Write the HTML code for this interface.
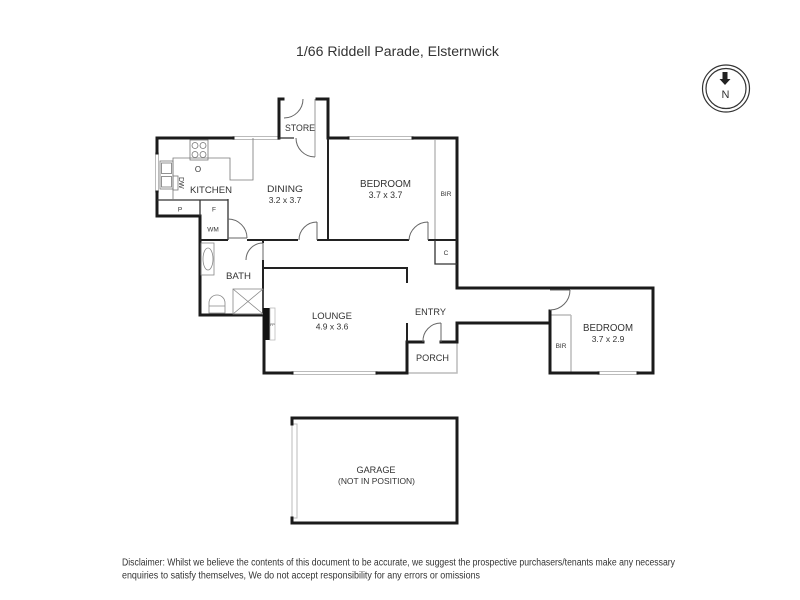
<!DOCTYPE html>
<html><head><meta charset="utf-8"><style>
html,body{margin:0;padding:0;background:#fff;}
svg{display:block;}
text{font-family:"Liberation Sans",sans-serif;fill:#333;}
</style></head><body>
<svg width="800" height="600" viewBox="0 0 800 600" xmlns="http://www.w3.org/2000/svg">
<rect width="800" height="600" fill="#fff"/>
<!-- Title -->
<text x="296" y="56" font-size="13.5" textLength="203" lengthAdjust="spacingAndGlyphs">1/66 Riddell Parade, Elsternwick</text>
<!-- Compass -->
<circle cx="726" cy="88.5" r="23.5" fill="none" stroke="#333" stroke-width="1.2"/>
<circle cx="726" cy="88.5" r="20" fill="none" stroke="#333" stroke-width="1.2"/>
<path d="M722.5,72 L727.5,72 L727.5,79 L730.5,79 L725,85 L719.5,79 L722.5,79 Z" fill="#222"/>
<text x="725.5" y="98" font-size="11" text-anchor="middle" fill="#222">N</text>

<!-- Windows (light) -->
<g fill="#fff" stroke="#bbb" stroke-width="1">
<rect x="233" y="136.5" width="46" height="3"/>
<rect x="155.5" y="153" width="3" height="39"/>
<rect x="348" y="136.5" width="65" height="3"/>
<rect x="292" y="371.5" width="85" height="3"/>
<rect x="598" y="371.5" width="40" height="3"/>
<rect x="292" y="424" width="5" height="94"/>
</g>
<!-- porch light lines -->
<g stroke="#bbb" stroke-width="1.5" fill="none">
<path d="M457,342 L457,373 L407,373"/>
<path d="M435,140 L435,240"/>
<path d="M571,315 L571,373 M550,315 L571,315"/>
</g>

<!-- Thick outer walls -->
<g stroke="#1b1b1b" stroke-width="3" fill="none" stroke-linecap="square" stroke-linejoin="miter">
<path d="M233,138 L157,138 L157,153"/>
<path d="M157,192 L157,216 L200,216 L200,315 L264,315 L264,373 L292,373"/>
<path d="M377,373 L407,373 L407,342 L423,342"/>
<path d="M441,342 L457,342 L457,323 L550,323"/>
<path d="M550,311 L550,373 L598,373"/>
<path d="M638,373 L653,373 L653,288 L457,288 L457,138 L413,138"/>
<path d="M348,138 L328,138 L328,99 L317,99"/>
<path d="M283,99 L279,99 L279,138"/>
<path d="M292,424 L292,418 L457,418 L457,523 L292,523 L292,518"/>
</g>

<!-- Interior walls -->
<g stroke="#222" stroke-width="2" fill="none">
<path d="M328,138 L328,240"/>
<path d="M200,240 L228,240 M247,240 L298,240 M317,240 L409,240 M428,240 L457,240"/>
<path d="M263,268 L407,268 L407,283"/>
<path d="M407,323 L407,342"/>
<path d="M263,240 L263,243 M263,260 L263,315"/>
</g>
<g stroke="#333" stroke-width="1.3" fill="none">
<path d="M435,240 L435,264 L457,264"/>
<path d="M157,200 L228,200 M200,200 L200,216 M228,199 L228,240"/>
<path d="M279,138 L294,138"/>
</g>
<path d="M315,99 L315,157" stroke="#999" stroke-width="1" fill="none"/>

<!-- Doors -->
<g stroke="#666" stroke-width="1" fill="none">
<path d="M284,118 A19,19 0 0 0 303,99"/>
<path d="M296,138 A19,19 0 0 0 315,157"/>
<path d="M317,222 L317,240 M317,222 A18,18 0 0 0 299,240"/>
<path d="M228,238 L247,238 M228,219 A19,19 0 0 1 247,238"/>
<path d="M428,222 L428,240 M428,222 A19,19 0 0 0 409,240"/>
<path d="M263,243 L263,260 M263,243 A17,17 0 0 0 246,260"/>
<path d="M441,323 L441,342 M441,323 A18,18 0 0 0 423,342"/>
<path d="M550,290 L570,290 M570,290 A20,20 0 0 1 550,310"/>
</g>

<!-- Kitchen fixtures -->
<g stroke="#777" stroke-width="0.8" fill="none">
<path d="M173,200 L173,158 L230,158 L230,180 L253,180 L253,138"/>
<rect x="190" y="140" width="18" height="20"/>
<circle cx="195" cy="145.5" r="3"/>
<circle cx="203" cy="145.5" r="3"/>
<circle cx="195" cy="154.5" r="3"/>
<circle cx="203" cy="154.5" r="3"/>
<rect x="160" y="161" width="13" height="28"/>
<rect x="161.5" y="163" width="10" height="10.5"/>
<rect x="161.5" y="176.5" width="10" height="10.5"/>
<rect x="173" y="176" width="5" height="14"/>
</g>
<!-- Bath fixtures -->
<g stroke="#888" stroke-width="0.8" fill="none">
<rect x="201" y="243" width="13" height="32"/>
<ellipse cx="208" cy="259" rx="5" ry="11"/>
<path d="M209,313 L209,303 A8,8 0 0 1 225,303 L225,313 Z M209,306 L225,306"/>
<rect x="233" y="289" width="30" height="25"/>
<path d="M233,289 L263,314 M263,289 L233,314"/>
</g>
<!-- Fireplace -->
<rect x="263" y="308" width="7" height="32" fill="#111"/>
<rect x="270" y="308" width="5" height="32" fill="#fff" stroke="#bbb" stroke-width="0.8"/>
<text x="272.5" y="326" font-size="3.5" text-anchor="middle">FP</text>

<!-- Labels -->
<g text-anchor="middle">
<text x="300" y="131" font-size="9.5" textLength="30" lengthAdjust="spacingAndGlyphs">STORE</text>
<text x="211" y="193" font-size="9.5" textLength="42" lengthAdjust="spacingAndGlyphs">KITCHEN</text>
<text x="285" y="192" font-size="9.5" textLength="36" lengthAdjust="spacingAndGlyphs">DINING</text>
<text x="285" y="203" font-size="8.5">3.2 x 3.7</text>
<text x="385.5" y="187" font-size="10" textLength="51" lengthAdjust="spacingAndGlyphs">BEDROOM</text>
<text x="385.5" y="198" font-size="8.8">3.7 x 3.7</text>
<text x="446" y="196" font-size="6.5">BIR</text>
<text x="446" y="255" font-size="6.5">C</text>
<text x="238.5" y="279" font-size="9.5" textLength="25" lengthAdjust="spacingAndGlyphs">BATH</text>
<text x="332" y="319" font-size="9.5" textLength="40" lengthAdjust="spacingAndGlyphs">LOUNGE</text>
<text x="332" y="329.5" font-size="8.5">4.9 x 3.6</text>
<text x="430.5" y="315" font-size="9.5" textLength="31" lengthAdjust="spacingAndGlyphs">ENTRY</text>
<text x="432.5" y="361" font-size="9.5" textLength="33" lengthAdjust="spacingAndGlyphs">PORCH</text>
<text x="608" y="331" font-size="10" textLength="50" lengthAdjust="spacingAndGlyphs">BEDROOM</text>
<text x="608" y="342" font-size="8.5">3.7 x 2.9</text>
<text x="561" y="348" font-size="6.5">BIR</text>
<text x="180" y="211.5" font-size="6.5">P</text>
<text x="214" y="211.5" font-size="6.5">F</text>
<text x="213" y="231.5" font-size="6.5">WM</text>
<text x="198" y="172" font-size="8">O</text>
<text x="376" y="473" font-size="9.5" textLength="39" lengthAdjust="spacingAndGlyphs">GARAGE</text>
<text x="376.5" y="484" font-size="8.5" textLength="77" lengthAdjust="spacingAndGlyphs">(NOT IN POSITION)</text>
</g>
<text x="0" y="0" font-size="7" transform="translate(179,177) rotate(90)">DW</text>

<!-- Disclaimer -->
<text x="122" y="565.5" font-size="10" fill="#222" textLength="553" lengthAdjust="spacingAndGlyphs">Disclaimer: Whilst we believe the contents of this document to be accurate, we suggest the prospective purchasers/tenants make any necessary</text>
<text x="122" y="578.5" font-size="10" fill="#222" textLength="358" lengthAdjust="spacingAndGlyphs">enquiries to satisfy themselves, We do not accept responsibility for any errors or omissions</text>
</svg>
</body></html>
